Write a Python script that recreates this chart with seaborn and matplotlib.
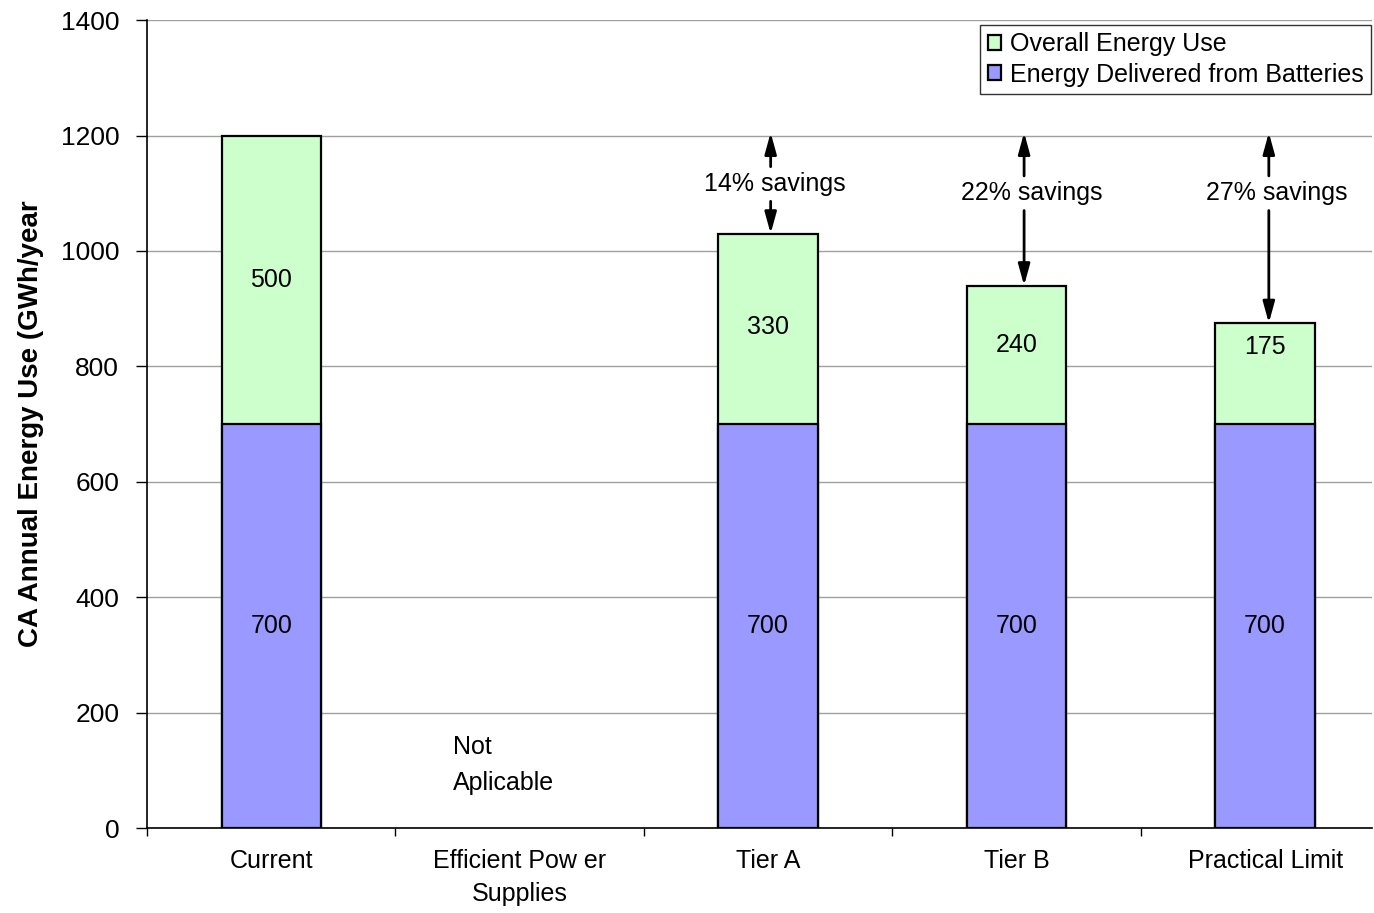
import numpy as np
import pandas as pd
import matplotlib
matplotlib.use("Agg")
import matplotlib.pyplot as plt
import seaborn as sns

# --- data ---
categories = ["Current", "Efficient Pow er\nSupplies", "Tier A", "Tier B", "Practical Limit"]
battery_energy = [700, np.nan, 700, 700, 700]
overhead_energy = [500, np.nan, 330, 240, 175]
savings_labels = [None, None, "14% savings", "22% savings", "27% savings"]
baseline_total = 1200

total_energy = [b + o for b, o in zip(battery_energy, overhead_energy)]
df = pd.DataFrame({"cat": categories, "battery": battery_energy,
                   "overhead": overhead_energy, "total": total_energy})

sns.set_style("white")
plt.rcParams["font.family"] = ["Liberation Sans", "DejaVu Sans"]
plt.rcParams["text.color"] = "black"
plt.rcParams["axes.labelcolor"] = "black"
plt.rcParams["xtick.color"] = "black"
plt.rcParams["ytick.color"] = "black"

fig = plt.figure(figsize=(13.74, 9.13), dpi=100)
ax = fig.add_axes([0.107, 0.093, 0.8915, 0.885])

green = "#CCFFCC"
blue = "#9999FF"

sns.barplot(data=df, x="cat", y="total", order=categories, color=green,
            edgecolor="black", linewidth=1.6, width=0.4, saturation=1, ax=ax,
            label="Overall Energy Use")
sns.barplot(data=df, x="cat", y="battery", order=categories, color=blue,
            edgecolor="black", linewidth=1.6, width=0.4, saturation=1, ax=ax,
            label="Energy Delivered from Batteries")

# segment labels (small green segments: label sits a bit higher, as in source)
green_label_y = [950, None, 868, 837, 833]
for i, (b, o) in enumerate(zip(battery_energy, overhead_energy)):
    if np.isnan(b):
        continue
    ax.text(i, b / 2, f"{int(b)}", ha="center", va="center", fontsize=18)
    ax.text(i, green_label_y[i], f"{int(o)}", ha="center", va="center", fontsize=18)

ax.text(0.73, 109, "Not\nAplicable", ha="left", va="center", fontsize=18,
        linespacing=1.6)

# savings arrows
text_y = [None, None, 1116, 1100, 1100]
arrow_dx = [0, 0, 0.01, 0.03, 0.015]
text_dx = [0, 0, 0.025, 0.06, 0.045]
for i, lab in enumerate(savings_labels):
    if lab is None:
        continue
    ty = text_y[i]
    xa = i + arrow_dx[i]
    ax.text(i + text_dx[i], ty, lab, ha="center", va="center", fontsize=18)
    ax.annotate("", xy=(xa, baseline_total + 5), xytext=(xa, ty + 30),
                arrowprops=dict(arrowstyle="-|>,head_length=0.8,head_width=0.22",
                                color="black", lw=2, mutation_scale=16,
                                shrinkA=0, shrinkB=0))
    ax.annotate("", xy=(xa, total_energy[i]), xytext=(xa, ty - 30),
                arrowprops=dict(arrowstyle="-|>,head_length=0.8,head_width=0.22",
                                color="black", lw=2, mutation_scale=16,
                                shrinkA=0, shrinkB=0))

ax.set_xlim(-0.5, 4.43)
ax.set_ylim(0, 1400)
ax.set_yticks(range(0, 1401, 200))
ax.set_xticks(np.arange(-0.5, 4.0, 1), minor=False)
ax.set_xticklabels([""] * 5)
ax.set_xticks(range(5), minor=True)
ax.set_xticklabels(categories, minor=True, fontsize=18, linespacing=1.5)
ax.tick_params(axis="x", which="major", bottom=True, direction="out", length=6, width=1)
ax.tick_params(axis="x", which="minor", bottom=False, length=0, pad=15)
ax.tick_params(axis="y", left=True, direction="out", length=8, width=1,
               labelsize=19, pad=12)
ax.set_xlabel("")
ax.set_ylabel("CA Annual Energy Use (GWh/year", fontsize=20, fontweight="bold",
              labelpad=12)
ax.grid(axis="y", color="#a0a0a0", linewidth=1)
ax.set_axisbelow(True)

for s in ["right", "top"]:
    ax.spines[s].set_visible(False)
ax.spines["left"].set_color("black")
ax.spines["bottom"].set_color("black")
ax.spines["left"].set_linewidth(1.2)
ax.spines["bottom"].set_linewidth(1.2)

leg = ax.legend(loc="upper right", bbox_to_anchor=(0.9995, 0.994), fontsize=18,
                frameon=True, fancybox=False, edgecolor="black",
                handlelength=0.55, handleheight=0.55, handletextpad=0.35,
                borderpad=0.3, labelspacing=0.25, borderaxespad=0)
leg.get_frame().set_linewidth(1)

fig.savefig("out.png", dpi=100)
